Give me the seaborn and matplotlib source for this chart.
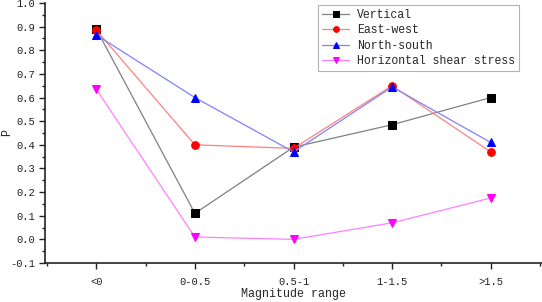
#!/usr/bin/env python3

import pandas
import seaborn as sns
import matplotlib.pyplot as plt
from matplotlib.ticker import AutoMinorLocator, MultipleLocator

# Chart data
categories = ["<0", "0-0.5", "0.5-1", "1-1.5", ">1.5"]
vertical = [0.89, 0.11, 0.39, 0.485, 0.60]
east_west = [0.885, 0.40, 0.385, 0.65, 0.37]
north_south = [0.865, 0.60, 0.37, 0.645, 0.41]
horizontal_shear = [0.635, 0.01, 0.0, 0.07, 0.175]
y_ticks = [-0.1, 0.0, 0.1, 0.2, 0.3, 0.4, 0.5, 0.6, 0.7, 0.8, 0.9, 1.0]

series = {
    "Vertical": vertical,
    "East-west": east_west,
    "North-south": north_south,
    "Horizontal shear stress": horizontal_shear,
}

# (marker color, line color, marker)
styles = {
    "Vertical": ("#000000", "#808080", "s"),
    "East-west": ("#ff0000", "#ff8080", "o"),
    "North-south": ("#0000ff", "#8080ff", "^"),
    "Horizontal shear stress": ("#ff00ff", "#ff80ff", "v"),
}

rows = []
for name, vals in series.items():
    for i, v in enumerate(vals):
        rows.append([name, i, v])
df = pandas.DataFrame(rows, columns=["series", "pos", "P"])

sns.set_style("ticks")
plt.rcParams["font.family"] = ["Liberation Mono", "DejaVu Sans"]

fig = plt.figure(figsize=(5.42, 3.02), dpi=100)
ax = fig.add_axes([45 / 542, 39 / 302, 497 / 542, 260 / 302])

for name in series:
    mc, lc, mk = styles[name]
    sub = df[df.series == name]
    sns.lineplot(
        data=sub,
        x="pos",
        y="P",
        ax=ax,
        color=lc,
        linewidth=0.9,
        marker=mk,
        markersize=5.5,
        markerfacecolor=mc,
        markeredgecolor=mc,
        label=name,
    )

ax.set_xlim(-0.52, 4.52)
ax.set_ylim(-0.1, 1.0)
ax.set_xticks(range(len(categories)))
ax.set_xticklabels(categories, fontsize=7.6)
ax.xaxis.set_minor_locator(AutoMinorLocator(2))
ax.set_yticks(y_ticks)
ax.set_yticklabels([f"{t:.1f}" for t in y_ticks], fontsize=7.6)
ax.yaxis.set_minor_locator(MultipleLocator(0.05))
ax.tick_params(which="major", direction="out", length=4, width=1, colors="#222222")
ax.tick_params(which="minor", direction="out", length=2.5, width=1, colors="#222222")
ax.tick_params(axis="x", pad=6)
ax.tick_params(axis="y", pad=3)
ax.set_xlabel("Magnitude range", fontsize=8.4, labelpad=1)
ax.set_ylabel("P", fontsize=8.4, va="center")
ax.yaxis.set_label_coords(-0.076, 0.5)
sns.despine(ax=ax)
for s in ["left", "bottom"]:
    ax.spines[s].set_color("#222222")
    ax.spines[s].set_linewidth(1.2)

leg = ax.legend(
    loc="upper right",
    bbox_to_anchor=(519 / 542, 1 - 5 / 302),
    bbox_transform=fig.transFigure,
    borderaxespad=0,
    fontsize=8.3,
    frameon=True,
    fancybox=False,
    edgecolor="#a0a0a0",
    handlelength=2.3,
    borderpad=0.35,
    labelspacing=0.3,
    handletextpad=0.7,
    markerscale=0.75,
)
leg.get_frame().set_linewidth(0.8)

plt.savefig("out.png", dpi=100)
